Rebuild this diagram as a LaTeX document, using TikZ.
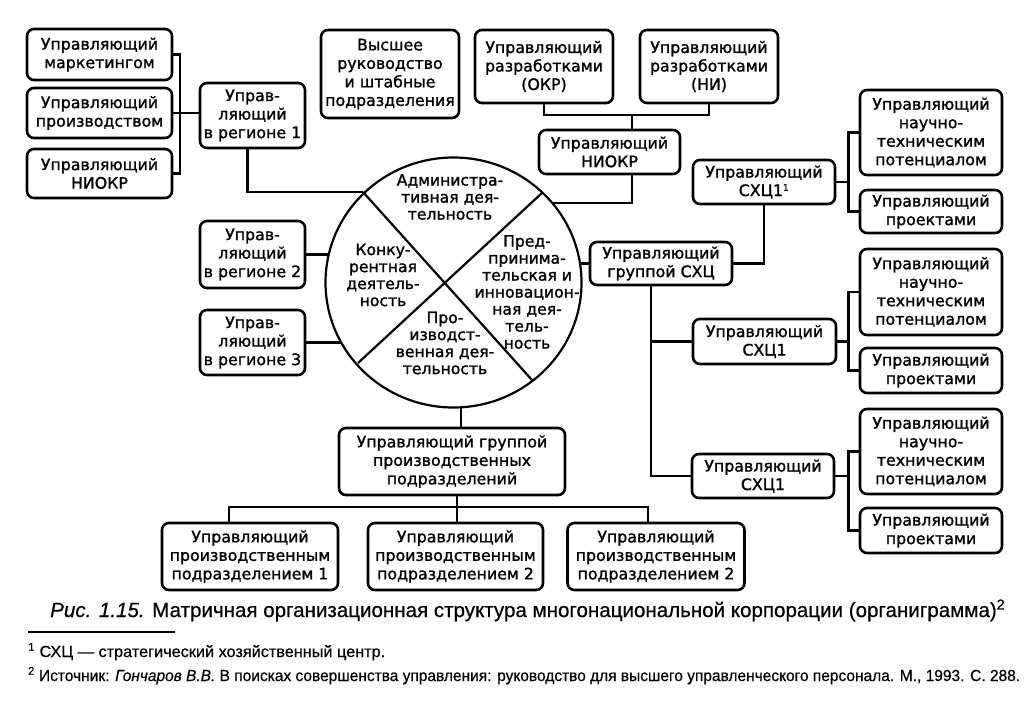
\documentclass[tikz,border=0pt]{standalone}
\usepackage{graphicx}
\usepackage{fontspec}
\setmainfont{DejaVu Sans}
\newfontfamily\boxf[FakeBold=1.3]{DejaVu Sans}
\newfontfamily\capf[FakeBold=0.5]{Liberation Sans}
\usetikzlibrary{shapes.geometric}
\newcommand{\bxfont}{\boxf\fontsize{15.8}{18.5}\selectfont}
\newcommand{\crfont}{\boxf\fontsize{15.6}{17}\selectfont}
\newcommand{\fitw}[2]{\resizebox{#1}{\height}{#2}}
\tikzset{
  box/.style={draw, line width=2.6pt, rounded corners=7pt, align=center, inner sep=0pt, font=\bxfont},
  conn/.style={line width=2.6pt},
  diag/.style={line width=2.2pt},
  ctext/.style={align=center, inner sep=0pt, font=\crfont},
}
\begin{document}
\begin{tikzpicture}[x=1pt,y=-1pt]
\useasboundingbox[fill=white] (0,0) rectangle (1035,702);
% left column
\node[box, minimum width=145pt, minimum height=51pt] (mark) at (99.5,54.5) {Управляющий\\маркетингом};
\node[box, minimum width=145pt, minimum height=50pt] (prod) at (99.5,113) {Управляющий\\производством};
\node[box, minimum width=145pt, minimum height=49pt] (niokrL) at (99.5,173.5) {Управляющий\\НИОКР};
\node[box, minimum width=105pt, minimum height=65pt] (reg1) at (252.5,115.5) {Управ-\\ляющий\\в регионе 1};
\node[box, minimum width=105pt, minimum height=67pt] (reg2) at (252.5,254.5) {Управ-\\ляющий\\в регионе 2};
\node[box, minimum width=105pt, minimum height=65pt] (reg3) at (252.5,342.5) {Управ-\\ляющий\\в регионе 3};
% top
\node[box, minimum width=138pt, minimum height=88pt] (top) at (390,74) {Высшее\\руководство\\и штабные\\подразделения};
\node[box, minimum width=138pt, minimum height=73pt] (okr) at (544,66.5) {Управляющий\\разработками\\(ОКР)};
\node[box, minimum width=138pt, minimum height=73pt] (ni) at (709,66.5) {Управляющий\\разработками\\(НИ)};
\node[box, minimum width=141pt, minimum height=44pt] (niokrC) at (609.5,152) {Управляющий\\НИОКР};
% right
\node[box, minimum width=142pt, minimum height=43pt] (grp) at (661,263.5) {Управляющий\\группой СХЦ};
\node[box, minimum width=142pt, minimum height=44pt] (sxa) at (764,182) {Управляющий\\СХЦ1\textsuperscript{\fontsize{9}{9}\selectfont 1}};
\node[box, minimum width=143pt, minimum height=45pt] (sxb) at (764.5,341.5) {Управляющий\\СХЦ1};
\node[box, minimum width=142pt, minimum height=44pt] (sxc) at (763,476) {Управляющий\\СХЦ1};
\node[box, minimum width=142pt, minimum height=85pt] (ntpa) at (931,132.5) {Управляющий\\научно-\\техническим\\потенциалом};
\node[box, minimum width=142pt, minimum height=43pt] (prja) at (931,211.5) {Управляющий\\проектами};
\node[box, minimum width=142pt, minimum height=86pt] (ntpb) at (931,292) {Управляющий\\научно-\\техническим\\потенциалом};
\node[box, minimum width=142pt, minimum height=45pt] (prjb) at (931,370.5) {Управляющий\\проектами};
\node[box, minimum width=142pt, minimum height=85pt] (ntpc) at (931,451.5) {Управляющий\\научно-\\техническим\\потенциалом};
\node[box, minimum width=142pt, minimum height=45pt] (prjc) at (931,530.5) {Управляющий\\проектами};
% bottom
\node[box, minimum width=226pt, minimum height=67pt] (grpP) at (452,461.5) {Управляющий группой\\производственных\\подразделений};
\node[box, minimum width=176pt, minimum height=67pt] (pp1) at (250,556.5) {Управляющий\\производственным\\подразделением 1};
\node[box, minimum width=175pt, minimum height=67pt] (pp2) at (455.5,556.5) {Управляющий\\производственным\\подразделением 2};
\node[box, minimum width=177pt, minimum height=67pt] (pp3) at (656,556.5) {Управляющий\\производственным\\подразделением 2};
% circle
\node[draw, ellipse, line width=2.2pt, minimum width=256pt, minimum height=250pt, inner sep=0pt, outer sep=0pt] (circ) at (453.5,282.5) {};
\coordinate (d1) at (363,192);
\coordinate (d2) at (532,380);
\coordinate (d3) at (542,193);
\coordinate (d4) at (358,363);
\draw[diag] (d1) -- (d2);
\draw[diag] (d3) -- (d4);
\node[ctext] (ta) at (450,197) {Администра-\\тивная дея-\\тельность};
\node[ctext] (tk) at (383,275) {Конку-\\рентная\\деятель-\\ность};
\node[ctext] (tp) at (527,292) {Пред-\\принима-\\тельская и\\инновацион-\\ная дея-\\тель-\\ность};
\node[ctext] (tpr) at (445,343) {Про-\\изводст-\\венная дея-\\тельность};
% connector points
\coordinate (busL) at (180,113);
\coordinate (b1) at (632,115);
\coordinate (cR) at (552,203);
\coordinate (cL2) at (329,254.5);
\coordinate (cL3) at (341,342.5);
\coordinate (cG) at (580,263.5);
\coordinate (gv) at (651,285);
\coordinate (cB) at (461,407);
\coordinate (bB) at (457,507);
\coordinate (bus1) at (229,507);
\coordinate (bus3) at (648,507);
% connectors
\draw[conn] (mark.east) -| (busL) |- (niokrL.east);
\draw[conn] (prod.east) -- (prod.east -| reg1.west);
\draw[conn] ([xshift=-5pt]reg1.south) |- (d1);
\draw[conn] (okr.south) |- (b1) -| (ni.south);
\draw[conn] (b1) -- (b1 |- niokrC.north);
\draw[conn] (b1 |- niokrC.south) |- (cR);
\draw[conn] (reg2.east) -- (cL2);
\draw[conn] (reg3.east) -- (cL3);
\draw[conn] (cG) -- (grp.west);
\draw[conn] (grp.east) -| (sxa.south);
\draw[conn] (gv) |- (sxc.west);
\draw[conn] (sxb.west) -- (sxb.west -| gv);
\draw[conn] (ntpa.west) -| ([xshift=12pt]sxa.east) |- (prja.west);
\draw[conn] (sxa.east) -- ([xshift=12pt]sxa.east);
\draw[conn] (ntpb.west) -| ([xshift=11pt]sxb.east) |- (prjb.west);
\draw[conn] (sxb.east) -- ([xshift=11pt]sxb.east);
\draw[conn] (ntpc.west) -| ([xshift=13pt]sxc.east) |- (prjc.west);
\draw[conn] (sxc.east) -- ([xshift=13pt]sxc.east);
\draw[conn] (cB) -- (cB |- grpP.north);
\draw[conn] (bB |- grpP.south) -- (bB);
\draw[conn] (pp1.north -| bus1) -- (bus1) -- (bus3) -- (pp3.north -| bus3);
\draw[conn] (bB) -- (bB |- pp2.north);
% caption
\node[anchor=base west, inner sep=0pt] (cap) at (50,617) {\fitw{955pt}{\capf\fontsize{20.5}{22}\selectfont\textit{Рис. 1.15.} Матричная организационная структура многонациональной корпорации (органиграмма)\textsuperscript{2}}};
\draw[line width=1.3pt] (28,632) -- (175,632);
\node[anchor=base west, inner sep=0pt] (fn1) at (28,657) {\fitw{357pt}{\capf\fontsize{16}{18}\selectfont\textsuperscript{1} СХЦ — стратегический хозяйственный центр.}};
\node[anchor=base west, inner sep=0pt] (fn2) at (28,681) {\fitw{992pt}{\capf\fontsize{16}{18}\selectfont\textsuperscript{2} Источник: \textit{Гончаров В.В.} В поисках совершенства управления: руководство для высшего управленческого персонала. М., 1993. С. 288.}};
\end{tikzpicture}
\end{document}
